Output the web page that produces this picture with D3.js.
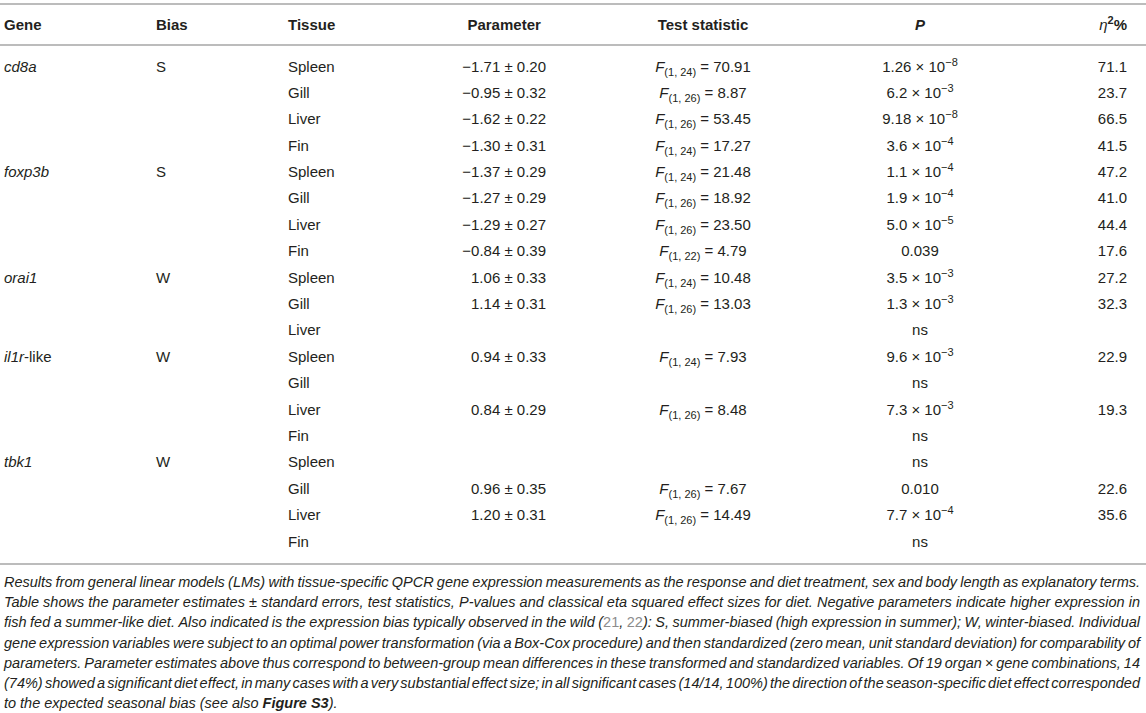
<!DOCTYPE html>
<html>
<head>
<meta charset="utf-8">
<script src="https://cdn.jsdelivr.net/npm/d3@7"></script>
<style>
  body { margin: 0; background: #fff; }
  svg text { font-family: "Liberation Sans", Arial, Helvetica, sans-serif; fill: #231f20; }
</style>
</head>
<body>
<div id="chart"></div>
<script>
// ---- data ----
var genes = ["cd8a", "foxp3b", "orai1", "il1r", "tbk1"];
var geneSuffix = ["", "", "", "-like", ""];
var biases = ["S", "S", "W", "W", "W"];
var geneIndex = [0, 0, 0, 0, 1, 1, 1, 1, 2, 2, 2, 3, 3, 3, 3, 4, 4, 4, 4];
var tissues = ["Spleen", "Gill", "Liver", "Fin", "Spleen", "Gill", "Liver", "Fin",
               "Spleen", "Gill", "Liver", "Spleen", "Gill", "Liver", "Fin",
               "Spleen", "Gill", "Liver", "Fin"];
// null = not significant
var estimates = [-1.71, -0.95, -1.62, -1.30, -1.37, -1.27, -1.29, -0.84,
                 1.06, 1.14, null, 0.94, null, 0.84, null, null, 0.96, 1.20, null];
var stdErrors = [0.20, 0.32, 0.22, 0.31, 0.29, 0.29, 0.27, 0.39,
                 0.33, 0.31, null, 0.33, null, 0.29, null, null, 0.35, 0.31, null];
var dfResid = [24, 26, 26, 24, 24, 26, 26, 22, 24, 26, null, 24, null, 26, null, null, 26, 26, null];
var fValues = ["70.91", "8.87", "53.45", "17.27", "21.48", "18.92", "23.50", "4.79",
               "10.48", "13.03", null, "7.93", null, "8.48", null, null, "7.67", "14.49", null];
var pMantissa = ["1.26", "6.2", "9.18", "3.6", "1.1", "1.9", "5.0", "0.039",
                 "3.5", "1.3", "ns", "9.6", "ns", "7.3", "ns", "ns", "0.010", "7.7", "ns"];
var pExponent = [-8, -3, -8, -4, -4, -4, -5, null, -3, -3, null, -3, null, -3, null, null, null, -4, null];
var etaSq = ["71.1", "23.7", "66.5", "41.5", "47.2", "41.0", "44.4", "17.6",
             "27.2", "32.3", "", "22.9", "", "19.3", "", "", "22.6", "35.6", ""];

var headers = ["Gene", "Bias", "Tissue", "Parameter", "Test statistic", "P", "η²%"];

// caption, one entry per printed line; {c:..} = citation, {b:..} = bold
var captionLines = [
  "Results from general linear models (LMs) with tissue-specific QPCR gene expression measurements as the response and diet treatment, sex and body length as explanatory terms.",
  "Table shows the parameter estimates ± standard errors, test statistics, P-values and classical eta squared effect sizes for diet. Negative parameters indicate higher expression in",
  "fish fed a summer-like diet. Also indicated is the expression bias typically observed in the wild ({c:21}, {c:22}): S, summer-biased (high expression in summer); W, winter-biased. Individual",
  "gene expression variables were subject to an optimal power transformation (via a Box-Cox procedure) and then standardized (zero mean, unit standard deviation) for comparability of",
  "parameters. Parameter estimates above thus correspond to between-group mean differences in these transformed and standardized variables. Of 19 organ × gene combinations, 14",
  "(74%) showed a significant diet effect, in many cases with a very substantial effect size; in all significant cases (14/14, 100%) the direction of the season-specific diet effect corresponded",
  "to the expected seasonal bias (see also {b:Figure}\u00a0{b:S3})."
];

function init() {
  var w = 1146, h = 713;
  var fs = 15;

  var svg = d3.select("#chart").append("svg")
      .attr("width", w).attr("height", h);

  var colX = { gene: 4, bias: 156, tissue: 288, param: 546, stat: 703, p: 920, eta: 1127 };

  var yRow = d3.scalePoint()
      .domain(d3.range(tissues.length))
      .range([66.5, 541.5]);

  // rules
  svg.selectAll("line.rule")
    .data([4, 45, 564])
    .enter().append("line")
    .attr("class", "rule")
    .attr("x1", 0).attr("x2", w)
    .attr("y1", function(d) { return d; })
    .attr("y2", function(d) { return d; })
    .attr("stroke", "#bcbcbc")
    .attr("stroke-width", 2);

  // header
  var head = svg.append("g").attr("font-weight", "bold").attr("font-size", fs);
  var hy = 30;
  head.append("text").attr("x", colX.gene).attr("y", hy).text(headers[0]);
  head.append("text").attr("x", colX.bias).attr("y", hy).text(headers[1]);
  head.append("text").attr("x", colX.tissue).attr("y", hy).text(headers[2]);
  var paramHead = head.append("text").attr("y", hy).attr("text-anchor", "middle").text(headers[3]);
  head.append("text").attr("x", colX.stat).attr("y", hy).attr("text-anchor", "middle").text(headers[4]);
  head.append("text").attr("x", colX.p).attr("y", hy).attr("text-anchor", "middle")
      .attr("font-style", "italic").text(headers[5]);
  var etaHead = head.append("text").attr("x", colX.eta).attr("y", hy).attr("text-anchor", "end");
  etaHead.append("tspan").attr("font-style", "italic").attr("font-weight", "normal").text("η");
  etaHead.append("tspan").attr("font-size", 11).attr("dy", -6).text("2");
  etaHead.append("tspan").attr("dy", 6).text("%");

  // body
  var rows = svg.selectAll("g.row")
    .data(tissues)
    .enter().append("g")
    .attr("class", "row")
    .attr("font-size", fs)
    .attr("transform", function(d, i) { return "translate(0," + (yRow(i) + 5) + ")"; });

  rows.each(function(d, i) {
    var g = d3.select(this);
    var gi = geneIndex[i];
    // gene + bias only on the first row of each gene
    if (i === 0 || geneIndex[i - 1] !== gi) {
      var gt = g.append("text").attr("x", colX.gene);
      gt.append("tspan").attr("font-style", "italic").text(genes[gi]);
      if (geneSuffix[gi]) gt.append("tspan").text(geneSuffix[gi]);
      g.append("text").attr("x", colX.bias).text(biases[gi]);
    }
    g.append("text").attr("x", colX.tissue).text(d);

    if (estimates[i] !== null) {
      var est = (estimates[i] < 0 ? "\u2212" : "") + Math.abs(estimates[i]).toFixed(2);
      g.append("text").attr("class", "param").attr("x", colX.param).attr("text-anchor", "end")
        .text(est + " \u00b1 " + stdErrors[i].toFixed(2));
      var st = g.append("text").attr("x", colX.stat).attr("text-anchor", "middle");
      st.append("tspan").attr("font-style", "italic").text("F");
      st.append("tspan").attr("font-size", 11).attr("dy", 4).text("(1, " + dfResid[i] + ")");
      st.append("tspan").attr("dy", -4).text(" = " + fValues[i]);
    }

    var pt = g.append("text").attr("x", colX.p).attr("text-anchor", "middle");
    if (pExponent[i] !== null) {
      pt.append("tspan").text(pMantissa[i] + " \u00d7 10");
      pt.append("tspan").attr("font-size", 11).attr("dy", -6).text("\u2212" + Math.abs(pExponent[i]));
    } else {
      pt.text(pMantissa[i]);
    }
    g.append("text").attr("x", colX.eta).attr("text-anchor", "end").text(etaSq[i]);
  });

  // parameter header centred over the widest estimate
  var paramLeft = d3.min(svg.selectAll("text.param").nodes(), function(n) {
    return colX.param - n.getComputedTextLength();
  });
  paramHead.attr("x", (paramLeft + colX.param) / 2);

  // caption, justified line by line
  var cap = svg.append("g").attr("font-size", 14.5).attr("font-style", "italic");
  var capLeft = 4, capRight = 1140;
  var capY = d3.scalePoint().domain(d3.range(captionLines.length)).range([587, 708]);

  captionLines.forEach(function(line, li) {
    var words = line.split(" ");
    var lg = cap.append("g").attr("transform", "translate(0," + capY(li) + ")");
    var nodes = words.map(function(word) {
      var t = lg.append("text").attr("x", 0).attr("y", 0);
      var re = /\{([cb]):([^}]*)\}/g, last = 0, m;
      var parts = [];
      while ((m = re.exec(word)) !== null) {
        if (m.index > last) parts.push({ s: word.slice(last, m.index) });
        parts.push({ s: m[2], k: m[1] });
        last = re.lastIndex;
      }
      if (last < word.length) parts.push({ s: word.slice(last) });
      parts.forEach(function(p) {
        var ts = t.append("tspan").text(p.s);
        if (p.k === "c") ts.attr("font-style", "normal").style("fill", "#8c8c8c");
        if (p.k === "b") ts.attr("font-weight", "bold");
      });
      return t;
    });
    var widths = nodes.map(function(t) { return t.node().getComputedTextLength(); });
    var total = d3.sum(widths);
    var gap = (li === captionLines.length - 1) ? 4
      : (capRight - capLeft - total) / (words.length - 1);
    var sx = 1;
    if (gap < 2) { gap = 2; sx = (capRight - capLeft) / (total + gap * (words.length - 1)); }
    var x = capLeft;
    nodes.forEach(function(t, k) {
      t.attr("x", x / sx);
      x += (widths[k] + gap) * sx;
    });
    if (sx !== 1) lg.attr("transform", "translate(0," + capY(li) + ") scale(" + sx + ",1)");
  });
}

window.onload = init;
</script>
</body>
</html>
